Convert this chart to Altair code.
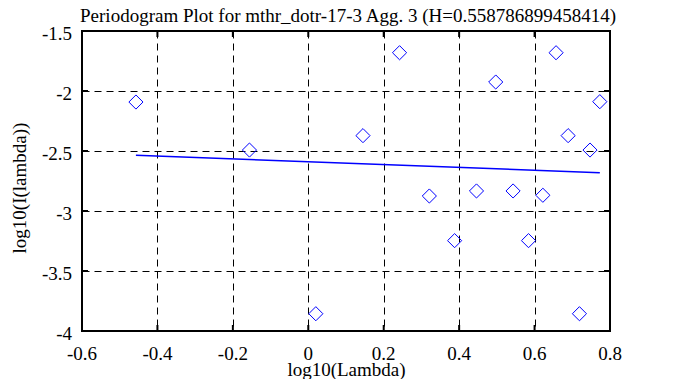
import altair as alt
import pandas as pd

# log10(Lambda) and log10(I(lambda))
x_vals = [-0.457, -0.156, 0.020, 0.145, 0.242, 0.321, 0.388, 0.446, 0.497,
          0.543, 0.584, 0.622, 0.657, 0.689, 0.719, 0.747, 0.773]
y_vals = [-2.092, -2.492, -3.856, -2.372, -1.681, -2.875, -3.247, -2.833, -1.925,
          -2.833, -3.247, -2.869, -1.681, -2.372, -3.856, -2.492, -2.089]

# fitted line end points
line_x = [-0.457, 0.773]
line_y = [-2.536, -2.681]

x_ticks = [-0.6, -0.4, -0.2, 0, 0.2, 0.4, 0.6, 0.8]
x_tick_labels = ["-0.6", "-0.4", "-0.2", "0", "0.2", "0.4", "0.6", "0.8"]
y_ticks = [-4, -3.5, -3, -2.5, -2, -1.5]
y_tick_labels = ["-4", "-3.5", "-3", "-2.5", "-2", "-1.5"]

title_text = "Periodogram Plot for mthr_dotr-17-3 Agg. 3 (H=0.558786899458414)"
x_title = "log10(Lambda)"
y_title = "log10(I(lambda))"

FONT = "Liberation Serif"
FS = 19
BLUE = "#0000ff"
W, H = 528, 300

df_pts = pd.DataFrame({"x": x_vals, "y": y_vals})
df_line = pd.DataFrame({"x": line_x, "y": line_y})
df_xt = pd.DataFrame({"x": x_ticks, "lab": x_tick_labels})
df_yt = pd.DataFrame({"y": y_ticks, "lab": y_tick_labels})
df_title = pd.DataFrame({"t": [title_text]})

xs = alt.Scale(domain=[-0.6, 0.8], nice=False, zero=False)
ys = alt.Scale(domain=[-4, -1.5], nice=False, zero=False)

common = dict(
    grid=True, gridDash=[7, 5], gridColor="black", gridOpacity=1, gridWidth=1,
    ticks=False, domain=False, labels=False,
    titleFont=FONT, titleFontSize=FS, titleFontWeight="normal", titleColor="black",
)

x_axis = alt.Axis(
    values=x_ticks, title=x_title,
    titleY=44, titleBaseline="alphabetic", **common,
)
y_axis = alt.Axis(
    values=y_ticks, title=y_title,
    titleX=-57, titleY=156.5, titleBaseline="alphabetic", titleAlign="center",
    titleAngle=270, **common,
)

pts = alt.Chart(df_pts).mark_point(
    shape="diamond", filled=False, color=BLUE, size=200, strokeWidth=1, opacity=1
).encode(
    x=alt.X("x:Q", scale=xs, axis=x_axis),
    y=alt.Y("y:Q", scale=ys, axis=y_axis),
)

line = alt.Chart(df_line).mark_line(color=BLUE, strokeWidth=1.5).encode(
    x=alt.X("x:Q", scale=xs),
    y=alt.Y("y:Q", scale=ys),
)

tick_style = dict(color="black", strokeWidth=2)
xt_bottom = alt.Chart(df_xt).mark_rule(**tick_style).encode(
    x=alt.X("x:Q", scale=xs), y=alt.value(H), y2=alt.value(H - 6))
xt_top = alt.Chart(df_xt).mark_rule(**tick_style).encode(
    x=alt.X("x:Q", scale=xs), y=alt.value(0), y2=alt.value(6))
yt_left = alt.Chart(df_yt).mark_rule(**tick_style).encode(
    y=alt.Y("y:Q", scale=ys), x=alt.value(0), x2=alt.value(6))
yt_right = alt.Chart(df_yt).mark_rule(**tick_style).encode(
    y=alt.Y("y:Q", scale=ys), x=alt.value(W), x2=alt.value(W - 6))

label_style = dict(font=FONT, fontSize=FS, color="black", baseline="alphabetic")
xlab = alt.Chart(df_xt).mark_text(align="center", **label_style).encode(
    x=alt.X("x:Q", scale=xs), y=alt.value(H + 29), text="lab:N")
ylab = alt.Chart(df_yt).mark_text(align="right", dy=9, **label_style).encode(
    y=alt.Y("y:Q", scale=ys), x=alt.value(-10), text="lab:N")

title = alt.Chart(df_title).mark_text(
    align="center", baseline="alphabetic", font=FONT, fontSize=FS, color="black"
).encode(text="t:N", x=alt.value(266), y=alt.value(-9))

chart = alt.layer(
    pts, line, xt_bottom, xt_top, yt_left, yt_right, xlab, ylab, title
).properties(
    width=W, height=H,
    autosize=alt.AutoSizeParams(type="none"),
    padding={"left": 74, "top": 23, "right": 50, "bottom": 48},
).configure(
    background="white",
).configure_view(
    stroke="black", strokeWidth=2
)

chart.save("out.html", embed_options={"renderer": "svg", "actions": False})
